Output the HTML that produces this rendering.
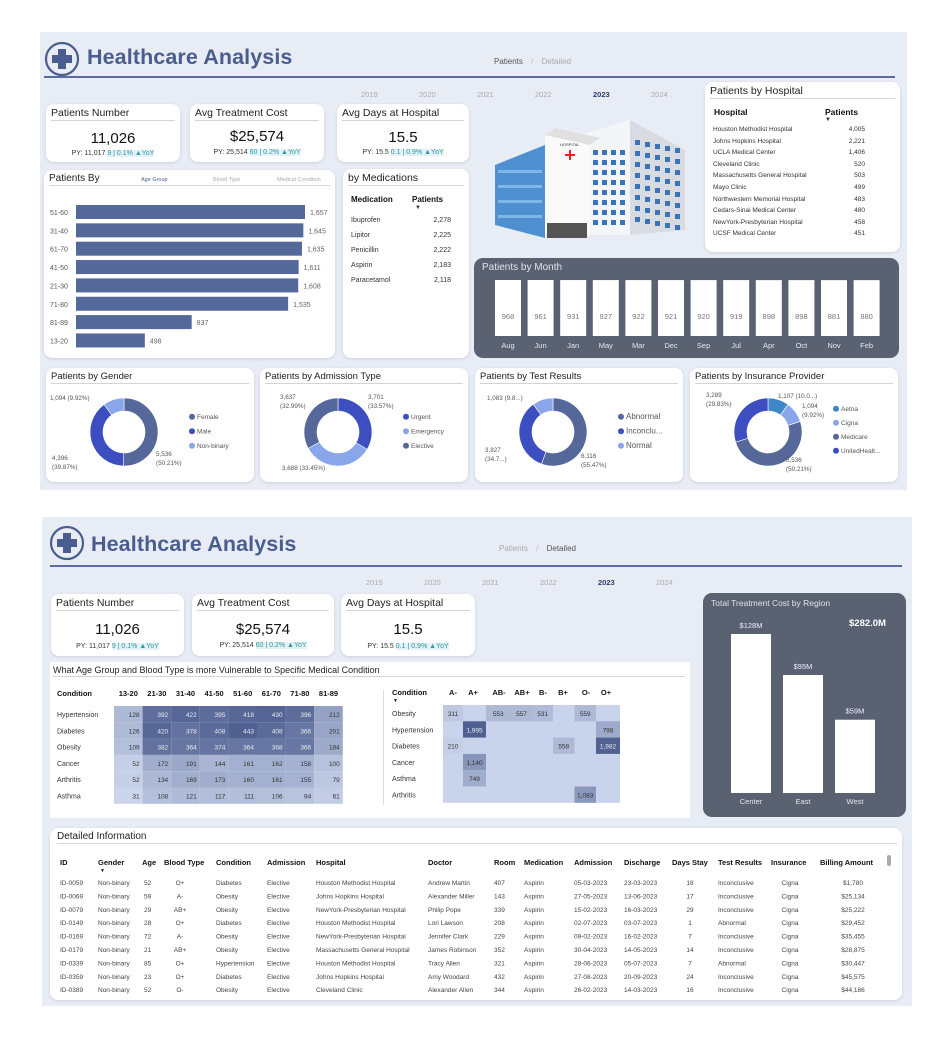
<!DOCTYPE html>
<html><head><meta charset="utf-8">
<style>
*{box-sizing:border-box;margin:0;padding:0}
body{width:945px;height:1058px;background:#fff;font-family:"Liberation Sans",sans-serif;position:relative;overflow:hidden;color:#333}
.abs{position:absolute}
.panel{position:absolute;background:#e8ecf5}
.card{position:absolute;background:#fff;border-radius:8px;box-shadow:0 1px 3px rgba(0,0,0,.12)}
.ct{position:absolute;left:5px;right:5px;top:3px;font-size:10.5px;color:#222;border-bottom:1.5px solid #d4d4d4;padding-bottom:1px;white-space:nowrap}
.title{font-size:21.5px;font-weight:bold;color:#4a5d8f;letter-spacing:.1px}
.yr{position:absolute;font-size:7.5px;color:#aaa}
.kv{position:absolute;left:0;right:0;text-align:center;font-size:15px;color:#111}
.py{position:absolute;left:0;right:0;text-align:center;font-size:7px;color:#333}
.py b{font-weight:normal;color:#2a9aa8;background:#e4f1f5}
.t7{font-size:7px}
svg text{font-family:"Liberation Sans",sans-serif}
</style></head><body>

<div class="panel" style="left:40px;top:32px;width:867px;height:458px"></div>
<svg class="abs" style="left:44px;top:41px" width="36" height="36"><circle cx="18" cy="18" r="16" fill="none" stroke="#4a5d8f" stroke-width="2.2"/><path d="M14 8h8v6h6v8h-6v6h-8v-6h-6v-8h6z" fill="#4a5d8f"/></svg>
<div class="abs title" style="left:87px;top:45px">Healthcare Analysis</div>
<div class="abs" style="left:494px;top:57px;font-size:8px;color:#555">Patients <span style="color:#bbb;margin:0 6px">/</span> <span style="color:#aaa">Detailed</span></div>
<div class="abs" style="left:44px;top:76px;width:851px;height:1.5px;background:#5b6aa0"></div>
<div id="yrs1"></div>

<div class="card" style="left:46px;top:104px;width:134px;height:58px"><div class="ct">Patients Number</div><div class="kv" style="top:26px">11,026</div><div class="py" style="top:46px">PY: 11,017 <b>9 | 0.1% ▲YoY</b></div></div>
<div class="card" style="left:190px;top:104px;width:134px;height:58px"><div class="ct">Avg Treatment Cost</div><div class="kv" style="top:24px">$25,574</div><div class="py" style="top:45px">PY: 25,514 <b>60 | 0.2% ▲YoY</b></div></div>
<div class="card" style="left:337px;top:104px;width:132px;height:58px"><div class="ct">Avg Days at Hospital</div><div class="kv" style="top:25px">15.5</div><div class="py" style="top:45px">PY: 15.5 <b>0.1 | 0.9% ▲YoY</b></div></div>

<div class="card" style="left:44px;top:170px;width:291px;height:188px">
 <div class="ct" style="font-size:10px">Patients By<span style="position:absolute;left:92px;top:4px;font-size:5.5px;color:#4a5d8f">Age Group</span><span style="position:absolute;left:164px;top:4px;font-size:5.5px;color:#aaa">Blood Type</span><span style="position:absolute;left:228px;top:4px;font-size:5.5px;color:#aaa">Medical Condition</span></div>
 <svg id="ageBars" class="abs" style="left:0;top:0" width="291" height="188"></svg>
</div>

<div class="card" style="left:343px;top:169px;width:126px;height:189px">
 <div class="ct">by Medications</div>
 <div class="abs" style="left:8px;top:26px;font-size:8px;font-weight:bold;color:#111">Medication</div>
 <div class="abs" style="left:69px;top:26px;font-size:8px;font-weight:bold;color:#111">Patients</div>
 <div class="abs" style="left:72px;top:36px;font-size:6px">▼</div>
 <div id="medTable"></div>
</div>

<svg class="abs" style="left:490px;top:110px" width="210" height="140" viewBox="0 0 210 140">
 <polygon points="140,10 195,40 195,120 140,125" fill="#d8dce2"/>
 <polygon points="90,25 140,10 140,125 90,125" fill="#f4f5f7"/>
 <polygon points="55,25 100,35 100,125 55,125" fill="#fafafa"/>
 <polygon points="55,25 100,35 110,28 65,18" fill="#e0e0e0"/>
 <polygon points="5,55 55,35 55,128 5,115" fill="#4e8fd0"/>
 <g fill="#8cc0ee" opacity=".8"><rect x="8" y="60" width="44" height="3"/><rect x="8" y="75" width="44" height="3"/><rect x="8" y="90" width="44" height="3"/><rect x="8" y="105" width="44" height="3"/></g>
 <g id="win" fill="#3a74b8"></g>
 <rect x="57" y="113" width="40" height="15" fill="#555"/>
 <path d="M75 44h4v-4h2v4h4v2h-4v4h-2v-4h-4z" fill="#e22"/>
 <text x="70" y="36" font-size="4" fill="#333">HOSPITAL</text>
</svg>

<div class="card" style="left:705px;top:82px;width:195px;height:170px">
 <div class="ct" style="font-size:10.5px">Patients by Hospital</div>
 <div class="abs" style="left:9px;top:25px;font-size:8.5px;font-weight:bold;color:#111">Hospital</div>
 <div class="abs" style="left:120px;top:25px;font-size:8.5px;font-weight:bold;color:#111">Patients</div>
 <div class="abs" style="left:120px;top:35px;font-size:6px">▼</div>
 <div id="hospTable"></div>
</div>

<div class="abs" style="left:474px;top:258px;width:425px;height:100px;background:#5a6272;border-radius:9px">
 <div class="abs" style="left:8px;top:4px;font-size:10px;color:#e0e4ea">Patients by Month</div>
 <svg id="monthBars" class="abs" style="left:0;top:0" width="425" height="100"></svg>
</div>

<div id="donuts"></div>

<div class="panel" style="left:42px;top:517px;width:870px;height:489px"></div>
<svg class="abs" style="left:49px;top:525px" width="36" height="36"><circle cx="18" cy="18" r="16" fill="none" stroke="#4a5d8f" stroke-width="2.2"/><path d="M14 8h8v6h6v8h-6v6h-8v-6h-6v-8h6z" fill="#4a5d8f"/></svg>
<div class="abs title" style="left:91px;top:532px">Healthcare Analysis</div>
<div class="abs" style="left:499px;top:544px;font-size:8px;color:#aaa">Patients <span style="color:#bbb;margin:0 6px">/</span> <span style="color:#555">Detailed</span></div>
<div class="abs" style="left:50px;top:565px;width:852px;height:1.5px;background:#5b6aa0"></div>
<div id="yrs2"></div>

<div class="card" style="left:51px;top:594px;width:133px;height:62px"><div class="ct">Patients Number</div><div class="kv" style="top:27px">11,026</div><div class="py" style="top:49px">PY: 11,017 <b>9 | 0.1% ▲YoY</b></div></div>
<div class="card" style="left:192px;top:594px;width:142px;height:62px"><div class="ct">Avg Treatment Cost</div><div class="kv" style="top:27px">$25,574</div><div class="py" style="top:48px">PY: 25,514 <b>60 | 0.2% ▲YoY</b></div></div>
<div class="card" style="left:341px;top:594px;width:134px;height:62px"><div class="ct">Avg Days at Hospital</div><div class="kv" style="top:27px">15.5</div><div class="py" style="top:49px">PY: 15.5 <b>0.1 | 0.9% ▲YoY</b></div></div>

<div class="abs" style="left:50px;top:662px;width:640px;height:156px;background:#fff">
 <div class="ct" style="font-size:9px;left:3px">What Age Group and Blood Type is more Vulnerable to Specific Medical Condition</div>
 <div class="abs" style="left:333px;top:28px;width:1px;height:115px;background:#ddd"></div>
 <svg id="heat" class="abs" style="left:0;top:0" width="640" height="156"></svg>
</div>

<div class="abs" style="left:703px;top:593px;width:203px;height:224px;background:#5a6272;border-radius:9px">
 <div class="abs" style="left:8px;top:5px;font-size:8.5px;color:#dfe3ea">Total Treatment Cost by Region</div>
 <div class="abs" style="left:146px;top:25px;font-size:9.5px;font-weight:bold;color:#fff">$282.0M</div>
 <svg id="regionBars" class="abs" style="left:0;top:0" width="203" height="224"></svg>
</div>

<div class="card" style="left:50px;top:828px;width:852px;height:172px">
 <div class="ct" style="font-size:10px;left:7px">Detailed Information</div>
 <div class="abs" style="left:837px;top:27px;width:4px;height:11px;background:#aaa;border-radius:2px"></div>
 <svg id="detail" class="abs" style="left:0;top:0" width="852" height="172"></svg>
</div>

<script>
const NS='http://www.w3.org/2000/svg';
function mk(parent,tag,attrs,txt){const e=document.createElementNS(NS,tag);for(const k in attrs)e.setAttribute(k,attrs[k]);if(txt!==undefined)e.textContent=txt;parent.appendChild(e);return e;}

const years=['2019','2020','2021','2022','2023','2024'];
function yrs(id,x0,step,y){const c=document.getElementById(id);years.forEach((t,i)=>{const d=document.createElement('div');d.className='yr';d.style.left=(x0+i*step)+'px';d.style.top=y+'px';d.textContent=t;if(t==='2023'){d.style.color='#2c3e70';d.style.fontWeight='bold';}c.appendChild(d);});}
yrs('yrs1',361,58,90);yrs('yrs2',366,58,578);

(function(){const g=document.getElementById('win');for(let r=0;r<8;r++){for(let c=0;c<4;c++){mk(g,'rect',{x:103+c*9,y:40+r*10,width:5,height:5});}for(let c=0;c<5;c++){mk(g,'rect',{x:145+c*10,y:30+r*11+c*2,width:5,height:5});}}})();

const ageCats=['51-60','31-40','61-70','41-50','21-30','71-80','81-89','13-20'];
const ageVals=[1657,1645,1635,1611,1608,1535,837,498];
(function(){const s=document.getElementById('ageBars');const x0=32,maxW=229,y0=35,step=18.35,h=14;const xs=v=>v/1657*maxW;
ageCats.forEach((c,i)=>{const y=y0+i*step;mk(s,'text',{x:6,y:y+10,'font-size':7,fill:'#555'},c);
const r=mk(s,'rect',{x:x0,y:y,width:xs(ageVals[i]),height:h,fill:'#55689a'});


mk(s,'text',{x:x0+xs(ageVals[i])+5,y:y+10,'font-size':7,fill:'#666'},ageVals[i].toLocaleString('en-US'));});})();

const meds=['Ibuprofen','Lipitor','Penicillin','Aspirin','Paracetamol'];
const medVals=[2278,2225,2222,2183,2118];
(function(){const c=document.getElementById('medTable');meds.forEach((m,i)=>{const d=document.createElement('div');d.className='abs t7';


d.style.left='8px';d.style.top=(48+i*15)+'px';d.style.width='100px';d.innerHTML=m+'<span style="position:absolute;right:0">'+medVals[i].toLocaleString('en-US')+'</span>';c.appendChild(d);});})();

const hosps=['Houston Methodist Hospital','Johns Hopkins Hospital','UCLA Medical Center','Cleveland Clinic','Massachusetts General Hospital','Mayo Clinic','Northwestern Memorial Hospital','Cedars-Sinai Medical Center','NewYork-Presbyterian Hospital','UCSF Medical Center'];
const hospVals=[4005,2221,1406,520,503,499,483,480,458,451];
(function(){const c=document.getElementById('hospTable');hosps.forEach((h,i)=>{const d=document.createElement('div');d.className='abs';


d.style.cssText='left:8px;top:'+(44+i*11.6)+'px;width:152px;font-size:6.5px';d.innerHTML=h+'<span style="position:absolute;right:0">'+hospVals[i].toLocaleString('en-US')+'</span>';c.appendChild(d);});})();

const months=['Aug','Jun','Jan','May','Mar','Dec','Sep','Jul','Apr','Oct','Nov','Feb'];
const monthVals=[968,961,931,927,922,921,920,919,898,898,881,880];
(function(){const s=document.getElementById('monthBars');const x0=21,step=32.6,w=26,bottom=78,h=56;
months.forEach((m,i)=>{const x=x0+i*step;const bh=h*(0.97+0.03*monthVals[i]/968);const r=mk(s,'rect',{x:x,y:bottom-bh,width:w,height:bh,fill:'#fff'});


mk(s,'text',{x:x+w/2,y:61,'font-size':7.5,fill:'#777','text-anchor':'middle'},monthVals[i]);
mk(s,'text',{x:x+w/2,y:90,'font-size':7.5,fill:'#e4e7ee','text-anchor':'middle'},m);});})();

const genderLabels=['Female','Male','Non-binary'];const genderVals=[5536,4396,1094];
const admLabels=['Urgent','Emergency','Elective'];const admVals=[3701,3688,3637];
const testLabels=['Abnormal','Inconclu...','Normal'];const testVals=[6116,3827,1083];
const insLabels=['Aetna','Cigna','Medicare','UnitedHealt...'];const insVals=[1107,1094,5536,3289];
const donutDefs=[
 {t:'Patients by Gender',x:46,L:genderLabels,V:genderVals,C:['#56679a','#3d4fc0','#8aa6ea']},
 {t:'Patients by Admission Type',x:260,L:admLabels,V:admVals,C:['#3d4fc0','#8aa6ea','#56679a']},
 {t:'Patients by Test Results',x:475,L:testLabels,V:testVals,C:['#56679a','#3d4fc0','#8aa6ea']},
 {t:'Patients by Insurance Provider',x:690,L:insLabels,V:insVals,C:['#3f86c9','#8aa6ea','#56679a','#3d4fc0']}];
const annTexts=[
 [['1,094 (9.92%)',4,32],['4,396','(39.87%)',6,92],['5,536','(50.21%)',110,88]],
 [['3,637','(32.99%)',20,31],['3,701','(33.57%)',108,31],['3,688 (33.45%)',22,102]],
 [['1,083 (9.8...)',12,32],['3,827','(34.7...)',10,84],['6,116','(55.47%)',106,90]],
 [['3,289','(29.83%)',16,29],['1,107 (10.0...)',88,30],['1,094','(9.92%)',112,40],['5,536','(50.21%)',96,94]]];
const legendFs=[6.5,6.5,8,6.5];
(function(){const c=document.getElementById('donuts');donutDefs.forEach((d,di)=>{
 const card=document.createElement('div');card.className='card';
 
 
 card.style.cssText='left:'+d.x+'px;top:368px;width:208px;height:114px';
 card.innerHTML='<div class="ct" style="font-size:9.5px">'+d.t+'</div>';c.appendChild(card);
 const s=document.createElementNS(NS,'svg');s.setAttribute('width',208);s.setAttribute('height',114);s.style.position='absolute';s.style.left='0';s.style.top='0';card.appendChild(s);
 const cx=78,cy=64,R=34,r=21;const tot=d.V.reduce((a,b)=>a+b,0);let a0=-Math.PI/2;
 d.V.forEach((v,i)=>{const a1=a0+v/tot*2*Math.PI;const lg=(a1-a0)>Math.PI?1:0;
  const p=`M${cx+R*Math.cos(a0)} ${cy+R*Math.sin(a0)} A${R} ${R} 0 ${lg} 1 ${cx+R*Math.cos(a1)} ${cy+R*Math.sin(a1)} L${cx+r*Math.cos(a1)} ${cy+r*Math.sin(a1)} A${r} ${r} 0 ${lg} 0 ${cx+r*Math.cos(a0)} ${cy+r*Math.sin(a0)}Z`;
  const e=mk(s,'path',{d:p,fill:d.C[i],stroke:'#fff','stroke-width':0.6});
  
  
  a0=a1;
  const ly=d.L.length===4?43+i*14:51+i*14.5;mk(s,'circle',{cx:146,cy:ly-2.3,r:3,fill:d.C[i]});mk(s,'text',{x:151,y:ly,'font-size':legendFs[di],fill:'#555'},d.L[i]);});
 annTexts[di].forEach(a=>{if(a.length===3){mk(s,'text',{x:a[1],y:a[2],'font-size':6.3,fill:'#555'},a[0]);}else{mk(s,'text',{x:a[2],y:a[3],'font-size':6.3,fill:'#555'},a[0]);mk(s,'text',{x:a[2],y:a[3]+9,'font-size':6.3,fill:'#555'},a[1]);}});
});})();

const conds=['Hypertension','Diabetes','Obesity','Cancer','Arthritis','Asthma'];
const ageGroups=['13-20','21-30','31-40','41-50','51-60','61-70','71-80','81-89'];
const ageHeat=[[128,392,422,395,418,430,396,212],[126,420,378,408,443,408,366,201],[109,382,364,374,364,368,366,184],[52,172,191,144,161,162,158,100],[52,134,169,173,160,161,155,79],[31,108,121,117,111,106,94,61]];
const bloodTypes=['A-','A+','AB-','AB+','B-','B+','O-','O+'];
const bloodConds=['Obesity','Hypertension','Diabetes','Cancer','Asthma','Arthritis'];
const bloodHeat=[[311,null,553,557,531,null,559,null],[null,1995,null,null,null,null,null,798],[210,null,null,null,null,558,null,1982],[null,1140,null,null,null,null,null,null],[null,749,null,null,null,null,null,null],[null,null,null,null,null,null,1083,null]];
function heatCol(t){const a=[203,213,236],b=[80,96,145];return 'rgb('+a.map((v,i)=>Math.round(v+(b[i]-v)*t)).join(',')+')';}
(function(){const s=document.getElementById('heat');
 mk(s,'text',{x:7,y:34,'font-size':7.5,'font-weight':'bold',fill:'#111'},'Condition');
 const lx0=64,lw=28.6,ly0=44,lh=16.3;
 ageGroups.forEach((g,j)=>mk(s,'text',{x:lx0+j*lw+lw/2,y:34,'font-size':7.5,'font-weight':'bold',fill:'#111','text-anchor':'middle'},g));
 conds.forEach((c,i)=>{mk(s,'text',{x:7,y:ly0+i*lh+11,'font-size':7,fill:'#333'},c);
  ageHeat[i].forEach((v,j)=>{const t=Math.max(0,(v-31)/(443-31));const r=mk(s,'rect',{x:lx0+j*lw,y:ly0+i*lh,width:lw,height:lh,fill:heatCol(t)});
  
  
  mk(s,'text',{x:lx0+j*lw+lw-3,y:ly0+i*lh+11,'font-size':6.5,fill:t>0.5?'#e8ebf3':'#333','text-anchor':'end'},v);});});
 mk(s,'text',{x:342,y:33,'font-size':7.5,'font-weight':'bold',fill:'#111'},'Condition');
 mk(s,'text',{x:343,y:40,'font-size':5,fill:'#111'},'▼');
 const rx0=393,ry0=43,rh=16.3;
 const rcx=[403,423,449,472,493,513,536,556];
 bloodTypes.forEach((b,j)=>mk(s,'text',{x:rcx[j],y:33,'font-size':7.5,'font-weight':'bold',fill:'#111','text-anchor':'middle'},b));
 mk(s,'rect',{x:rx0,y:ry0,width:177,height:rh*6,fill:'#c9d3ec'});
 bloodConds.forEach((c,i)=>{mk(s,'text',{x:342,y:ry0+i*rh+11,'font-size':7,fill:'#333'},c);
  bloodHeat[i].forEach((v,j)=>{if(v===null)return;const t=Math.max(0,(v-200)/(1995-200));const x=j===0?rx0:(rcx[j-1]+rcx[j])/2;const x2=j===7?rx0+177:(rcx[j]+rcx[j+1])/2;
   const r=mk(s,'rect',{x:x,y:ry0+i*rh,width:x2-x,height:rh,fill:heatCol(0.05+t*0.95)});
   
   
   mk(s,'text',{x:x+(x2-x)/2,y:ry0+i*rh+11,'font-size':6.5,fill:t>0.6?'#e8ebf3':'#333','text-anchor':'middle'},v.toLocaleString('en-US'));});});
})();

const regions=['Center','East','West'];
const regionVals=[128,95,59];
(function(){const s=document.getElementById('regionBars');const bottom=200,H=159,w=40,x0=28,step=52;
 regions.forEach((r,i)=>{const h=regionVals[i]/128*H;const x=x0+i*step;const e=mk(s,'rect',{x:x,y:bottom-h,width:w,height:h,fill:'#fff'});
 
 
 mk(s,'text',{x:x+w/2,y:bottom-h-6,'font-size':7.5,fill:'#eef','text-anchor':'middle'},'$'+regionVals[i]+'M');
 mk(s,'text',{x:x+w/2,y:211,'font-size':7.5,fill:'#e4e7ee','text-anchor':'middle'},r);});})();

const cols=['ID','Gender','Age','Blood Type','Condition','Admission','Hospital','Doctor','Room','Medication','Admission','Discharge','Days Stay','Test Results','Insurance','Billing Amount'];
const colX=[10,48,92,114,166,217,266,378,444,474,524,574,622,668,721,770];
const colAlign=['s','s','s','m','s','s','s','s','s','s','s','s','m','s','m','m'];
const rows=[
['ID-0059','Non-binary','52','O+','Diabetes','Elective','Houston Methodist Hospital','Andrew Martin','407','Aspirin','05-03-2023','23-03-2023','18','Inconclusive','Cigna','$1,780'],
['ID-0069','Non-binary','59','A-','Obesity','Elective','Johns Hopkins Hospital','Alexander Miller','143','Aspirin','27-05-2023','13-06-2023','17','Inconclusive','Cigna','$25,134'],
['ID-0079','Non-binary','29','AB+','Obesity','Elective','NewYork-Presbyterian Hospital','Philip Pope','339','Aspirin','15-02-2023','16-03-2023','29','Inconclusive','Cigna','$25,222'],
['ID-0149','Non-binary','28','O+','Diabetes','Elective','Houston Methodist Hospital','Lori Lawson','208','Aspirin','02-07-2023','03-07-2023','1','Abnormal','Cigna','$29,452'],
['ID-0169','Non-binary','72','A-','Obesity','Elective','NewYork-Presbyterian Hospital','Jennifer Clark','229','Aspirin','09-02-2023','16-02-2023','7','Inconclusive','Cigna','$35,455'],
['ID-0179','Non-binary','21','AB+','Obesity','Elective','Massachusetts General Hospital','James Robinson','352','Aspirin','30-04-2023','14-05-2023','14','Inconclusive','Cigna','$28,875'],
['ID-0339','Non-binary','85','O+','Hypertension','Elective','Houston Methodist Hospital','Tracy Allen','321','Aspirin','28-06-2023','05-07-2023','7','Abnormal','Cigna','$30,447'],
['ID-0359','Non-binary','23','O+','Diabetes','Elective','Johns Hopkins Hospital','Amy Woodard','432','Aspirin','27-08-2023','20-09-2023','24','Inconclusive','Cigna','$45,575'],
['ID-0389','Non-binary','52','O-','Obesity','Elective','Cleveland Clinic','Alexander Allen','344','Aspirin','26-02-2023','14-03-2023','16','Inconclusive','Cigna','$44,186']];
const colMid=[0,0,0,130,0,0,0,0,0,0,0,0,640,0,740,803];
(function(){const s=document.getElementById('detail');
 cols.forEach((c,j)=>{mk(s,'text',{x:colX[j],y:37,'font-size':7.5,'font-weight':'bold',fill:'#111'},c);});
 mk(s,'text',{x:50,y:44,'font-size':5,fill:'#111'},'▼');
 rows.forEach((r,i)=>{const y=57+i*13.4;r.forEach((v,j)=>{const m=colAlign[j]==='m';mk(s,'text',{x:m?colMid[j]:(j===2?colX[j]+2:colX[j]),y:y,'font-size':6.5,fill:'#444','text-anchor':m?'middle':'start'},v);});});
})();
</script>
</body></html>
